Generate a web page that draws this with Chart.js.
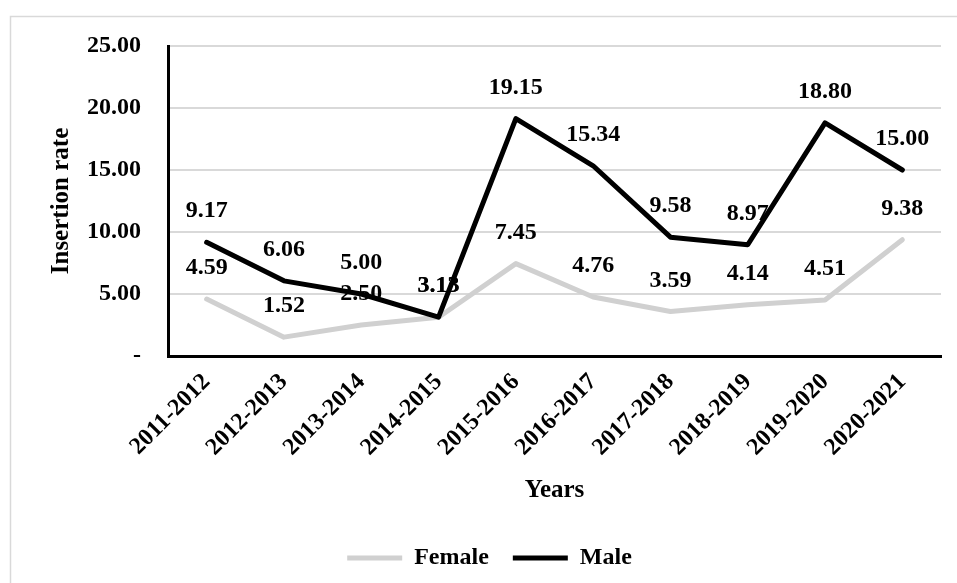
<!DOCTYPE html>
<html>
<head>
<meta charset="utf-8">
<script src="https://cdn.jsdelivr.net/npm/chart.js@4"></script>
<style>
  body { margin: 0; background: #fff; overflow: hidden; }
  #wrap { position: relative; width: 957px; height: 583px; overflow: hidden; }
</style>
</head>
<body>
<div id="wrap"><canvas id="myChart" width="957" height="600"></canvas></div>
<script>
var years = ['2011-2012', '2012-2013', '2013-2014', '2014-2015', '2015-2016',
             '2016-2017', '2017-2018', '2018-2019', '2019-2020', '2020-2021']
var female = [4.59, 1.52, 2.50, 3.13, 7.45, 4.76, 3.59, 4.14, 4.51, 9.38]
var male = [9.17, 6.06, 5.00, 3.13, 19.15, 15.34, 9.58, 8.97, 18.80, 15.00]
var yTicks = [0, 5, 10, 15, 20, 25]

var serif = "'Liberation Serif', 'Times New Roman', serif"

// outer light grey frame
var frame = {
  id: 'frame',
  beforeDraw: function (chart) {
    var ctx = chart.ctx
    ctx.save()
    ctx.strokeStyle = '#d9d9d9'
    ctx.lineWidth = 1.5
    ctx.strokeRect(10.5, 16.5, 960, 620)
    ctx.restore()
  }
}

// value labels above every point
var valueLabels = {
  id: 'valueLabels',
  afterDatasetsDraw: function (chart) {
    var ctx = chart.ctx
    ctx.save()
    ctx.font = 'bold 24px ' + serif
    ctx.fillStyle = '#000'
    ctx.textAlign = 'center'
    ctx.textBaseline = 'middle'
    chart.data.datasets.forEach(function (ds, i) {
      chart.getDatasetMeta(i).data.forEach(function (pt, j) {
        ctx.fillText(ds.data[j].toFixed(2), pt.x, pt.y - 31)
      })
    })
    ctx.restore()
  }
}

var ctx = document.getElementById('myChart').getContext('2d')
var chart = new Chart(ctx, {
  type: 'line',
  data: {
    labels: years,
    datasets: [{
      label: 'Female',
      data: female,
      borderColor: '#d0d0d0',
      backgroundColor: '#d0d0d0',
      borderWidth: 5,
      borderCapStyle: 'round',
      borderJoinStyle: 'round',
      pointRadius: 0,
      tension: 0,
      order: 1
    }, {
      label: 'Male',
      data: male,
      borderColor: '#000',
      backgroundColor: '#000',
      borderWidth: 5,
      borderCapStyle: 'round',
      borderJoinStyle: 'round',
      pointRadius: 0,
      tension: 0,
      order: 0
    }]
  },
  options: {
    responsive: false,
    animation: false,
    layout: { padding: { top: 46, right: 16, bottom: 20, left: 38 } },
    plugins: {
      tooltip: { enabled: false },
      legend: {
        position: 'bottom',
        labels: {
          usePointStyle: true,
          pointStyle: 'line',
          pointStyleWidth: 55,
          color: '#000',
          padding: 24,
          sort: function (a, b) { return a.datasetIndex - b.datasetIndex },
          font: { family: serif, size: 24, weight: 'bold' }
        }
      }
    },
    scales: {
      x: {
        offset: true,
        grid: { display: false },
        border: { color: '#000', width: 3 },
        ticks: {
          color: '#000',
          minRotation: 45,
          maxRotation: 45,
          padding: 4,
          font: { family: serif, size: 24, weight: 'bold' }
        },
        title: {
          display: true,
          text: 'Years',
          color: '#000',
          padding: { top: 16, bottom: 16 },
          font: { family: serif, size: 25, weight: 'bold' }
        },
        afterFit: function (scale) { scale.height = 166 }
      },
      y: {
        min: 0,
        max: 25,
        afterBuildTicks: function (scale) {
          scale.ticks = yTicks.map(function (v) { return { value: v } })
        },
        grid: { color: '#d9d9d9', lineWidth: 2, drawTicks: false },
        border: { color: '#000', width: 3 },
        ticks: {
          color: '#000',
          padding: 27,
          font: { family: serif, size: 24, weight: 'bold' },
          callback: function (v) { return v === 0 ? '-' : v.toFixed(2) }
        },
        title: {
          display: true,
          text: 'Insertion rate',
          color: '#000',
          padding: { top: 9, bottom: 9 },
          font: { family: serif, size: 25, weight: 'bold' }
        },
        afterFit: function (scale) { scale.width = 130 }
      }
    }
  },
  plugins: [frame, valueLabels]
})
</script>
</body>
</html>
